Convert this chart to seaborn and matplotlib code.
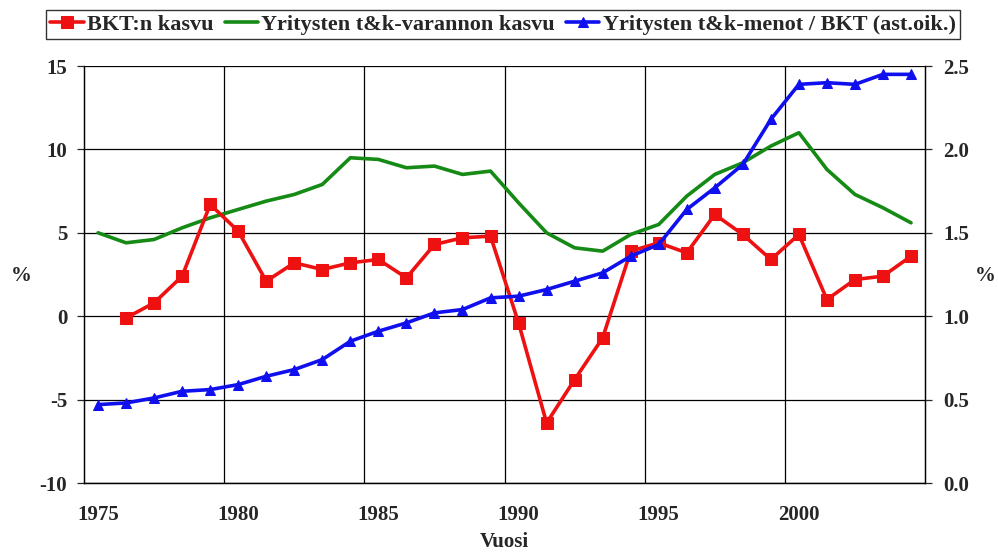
import numpy as np
import pandas as pd
import seaborn as sns
import matplotlib.pyplot as plt
from matplotlib.ticker import MultipleLocator, FixedLocator

years = list(range(1975, 2005))

# BKT:n kasvu (%), starts 1976
gdp_years = list(range(1976, 2005))
gdp_growth = [-0.1, 0.8, 2.4, 6.7, 5.1, 2.1, 3.2, 2.8, 3.2, 3.4, 2.3, 4.3, 4.7, 4.8,
              -0.4, -6.4, -3.8, -1.3, 3.9, 4.4, 3.8, 6.1, 4.9, 3.4, 4.9, 1.0, 2.2, 2.4, 3.6]

# Yritysten t&k-varannon kasvu (%)
rd_stock_growth = [5.0, 4.4, 4.6, 5.3, 5.9, 6.4, 6.9, 7.3, 7.9, 9.5, 9.4, 8.9, 9.0, 8.5, 8.7,
                   6.8, 5.0, 4.1, 3.9, 4.9, 5.5, 7.2, 8.5, 9.2, 10.2, 11.0, 8.8, 7.3, 6.5, 5.6]

# Yritysten t&k-menot / BKT (right axis)
rd_share = [0.47, 0.48, 0.51, 0.55, 0.56, 0.59, 0.64, 0.68, 0.74, 0.85, 0.91, 0.96, 1.02, 1.04, 1.11,
            1.12, 1.16, 1.21, 1.26, 1.36, 1.43, 1.64, 1.77, 1.91, 2.18, 2.39, 2.40, 2.39, 2.45, 2.45]

labels = ["BKT:n kasvu", "Yritysten t&k-varannon kasvu", "Yritysten t&k-menot / BKT (ast.oik.)"]

sns.set_style("white")
plt.rcParams["font.family"] = ["Liberation Serif", "DejaVu Serif"]
plt.rcParams["font.weight"] = "bold"
plt.rcParams["axes.unicode_minus"] = False

red = "#ee1111"
green = "#158a15"
blue = "#1010ee"
fs = 15

fig = plt.figure(figsize=(9.98, 5.58), dpi=100)
ax = fig.add_axes([0.0842, 0.1344, 0.8427, 0.7473])
ax2 = ax.twinx()

df_gdp = pd.DataFrame({"year": gdp_years, "value": gdp_growth})
df_stock = pd.DataFrame({"year": years, "value": rd_stock_growth})
df_share = pd.DataFrame({"year": years, "value": rd_share})

sns.lineplot(data=df_gdp, x="year", y="value", ax=ax, color=red, lw=2.6,
             marker="s", markersize=8.5, markeredgecolor=red, label=labels[0], zorder=4)
sns.lineplot(data=df_stock, x="year", y="value", ax=ax, color=green, lw=2.6,
             label=labels[1], zorder=3)
sns.lineplot(data=df_share, x="year", y="value", ax=ax2, color=blue, lw=2.6,
             marker="^", markersize=7.5, markeredgecolor=blue, label=labels[2], zorder=3)

ax.set_xlim(1974.5, 2004.5)
ax.set_ylim(-10, 15)
ax2.set_ylim(0, 2.5)

ax.yaxis.set_major_locator(MultipleLocator(5))
ax2.yaxis.set_major_locator(MultipleLocator(0.5))
ax2.yaxis.set_major_formatter(plt.FormatStrFormatter("%.1f"))

ax.xaxis.set_major_locator(FixedLocator([1975, 1980, 1985, 1990, 1995, 2000]))
ax.xaxis.set_minor_locator(FixedLocator([1979.5, 1984.5, 1989.5, 1994.5, 1999.5]))
ax.grid(False)
ax2.grid(False)
ax.grid(True, axis="y", which="major", color="black", lw=0.9)
ax.grid(True, axis="x", which="minor", color="black", lw=0.9)

ax.tick_params(axis="x", which="both", length=0, pad=16, labelsize=fs)
ax.tick_params(axis="y", length=5, width=0.9, direction="out", labelsize=fs, left=True, pad=7)
ax2.tick_params(axis="y", length=5, width=0.9, direction="out", labelsize=fs, right=True, pad=8)

for a in (ax, ax2):
    for s in a.spines.values():
        s.set_color("black")
        s.set_linewidth(0.9)
    a.spines["top"].set_visible(False)

ax.set_xlabel("Vuosi", fontsize=fs, fontweight="bold", labelpad=5)
ax.set_ylabel("")
ax2.set_ylabel("")
fig.text(0.021, 0.505, "%", fontsize=fs, fontweight="bold", ha="center", va="center")
fig.text(0.987, 0.505, "%", fontsize=fs, fontweight="bold", ha="center", va="center")

h1, l1 = ax.get_legend_handles_labels()
h2, l2 = ax2.get_legend_handles_labels()
ax.get_legend().remove()
ax2.get_legend().remove()
leg = fig.legend(h1 + h2, l1 + l2, loc="upper center", bbox_to_anchor=(0.504, 0.982), ncol=3,
                 frameon=True, fancybox=False, edgecolor="black", fontsize=16,
                 handlelength=1.5, handletextpad=0.15, columnspacing=0.5, borderpad=0.2,
                 borderaxespad=0.0)
leg.get_frame().set_linewidth(1.0)

fig.savefig("out.png", dpi=100)
